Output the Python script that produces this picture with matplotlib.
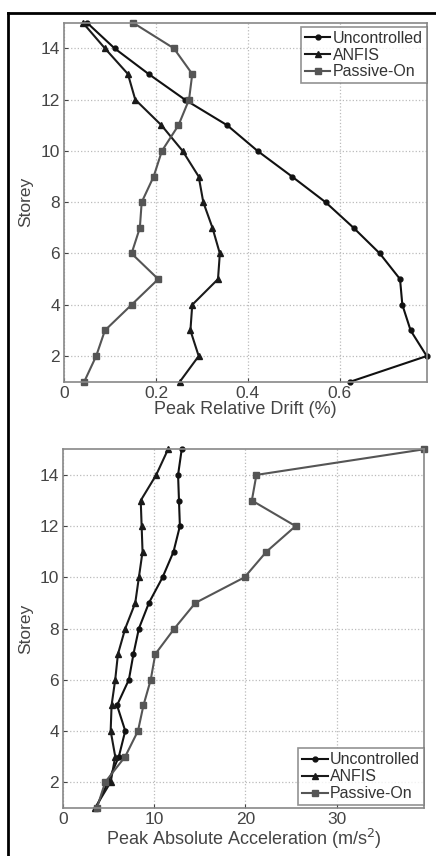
import numpy as np
import matplotlib.pyplot as plt
from matplotlib.lines import Line2D

# Dados
andares = np.arange(15, 0, -1)

deriva_sem_controle = [0.050, 0.110, 0.184, 0.263, 0.355, 0.421, 0.496, 0.569,
                       0.630, 0.687, 0.731, 0.736, 0.754, 0.789, 0.623]
deriva_anfis = [0.041, 0.089, 0.139, 0.155, 0.212, 0.258, 0.293, 0.303,
                0.323, 0.339, 0.335, 0.279, 0.275, 0.293, 0.252]
deriva_passivo = [0.150, 0.239, 0.279, 0.272, 0.249, 0.213, 0.195, 0.169,
                  0.165, 0.147, 0.205, 0.147, 0.089, 0.070, 0.044]

acel_sem_controle = [13.0, 12.6, 12.7, 12.8, 12.1, 10.9, 9.4, 8.3,
                     7.7, 7.2, 5.9, 6.8, 6.1, 4.9, 3.6]
acel_anfis = [11.5, 10.2, 8.5, 8.6, 8.7, 8.3, 7.9, 6.8,
              6.0, 5.7, 5.3, 5.2, 5.7, 5.2, 3.5]
acel_passivo = [39.6, 21.2, 20.7, 25.5, 22.3, 19.9, 14.5, 12.2,
                10.1, 9.6, 8.8, 8.2, 6.8, 4.6, 3.7]

ticks_deriva = [0, 0.2, 0.4, 0.6]
rotulos_deriva = ['0', '0.2', '0.4', '0.6']
ticks_acel = [0, 10, 20, 30]
rotulos_acel = ['0', '10', '20', '30']

nomes = ['Uncontrolled', 'ANFIS', 'Passive-On']
estilos = [dict(color='#111111', marker='o', ms=3.5),
           dict(color='#1a1a1a', marker='^', ms=4.5),
           dict(color='#555555', marker='s', ms=4.5)]

plt.rcParams['font.family'] = ['Liberation Sans', 'DejaVu Sans']

fig = plt.figure(figsize=(4.36, 8.56), dpi=100)

# moldura preta externa (apenas topo e esquerda visiveis)
fig.add_artist(Line2D([8 / 436, 8 / 436], [0, 1 - 13 / 856], color='black', lw=2,
                      transform=fig.transFigure))
fig.add_artist(Line2D([8 / 436, 1.0], [1 - 13 / 856, 1 - 13 / 856], color='black', lw=2,
                      transform=fig.transFigure))

ax1 = fig.add_axes([64 / 436, 1 - 381.7 / 856, 362.7 / 436, 359 / 856])
ax2 = fig.add_axes([63.3 / 436, 1 - 807.7 / 856, 360.7 / 436, 358.4 / 856])


def desenhar(ax, series, xlim, xticks, xrotulos, xlabel, loc, ancora):
    for valores, nome, est in zip(series, nomes, estilos):
        ax.plot(valores, andares, lw=1.5, label=nome, clip_on=False, **est)
    ax.set_xlim(*xlim)
    ax.set_ylim(1, 15)
    ax.set_xticks(xticks, xrotulos)
    ax.set_yticks(range(2, 15, 2))
    ax.grid(True, linestyle=':', color='#bbbbbb', lw=0.9)
    ax.tick_params(direction='in', labelsize=12.5, colors='#444444', length=3, pad=3)
    for lado in ax.spines.values():
        lado.set_color('#888888')
        lado.set_linewidth(1.2)
    ax.set_xlabel(xlabel, fontsize=13, color='#444444', labelpad=0)
    ax.set_ylabel('Storey', fontsize=12.5, color='#444444', labelpad=5)
    leg = ax.legend(loc=loc, bbox_to_anchor=ancora, fontsize=11.5, frameon=True,
                    fancybox=False, borderaxespad=0, handlelength=1.6,
                    handletextpad=0.15, labelspacing=0.12, borderpad=0.25)
    leg.get_frame().set_edgecolor('#777777')
    leg.get_frame().set_linewidth(1.2)
    leg.set_zorder(5)
    for t in leg.get_texts():
        t.set_color('#333333')


desenhar(ax1, [deriva_sem_controle, deriva_anfis, deriva_passivo],
         (0, 0.789), ticks_deriva, rotulos_deriva, 'Peak Relative Drift (%)',
         'upper right', (1.0, 0.989))
desenhar(ax2, [acel_sem_controle, acel_anfis, acel_passivo],
         (0, 39.6), ticks_acel, rotulos_acel, 'Peak Absolute Acceleration (m/s$^2$)',
         'lower right', (1.0, 0.007))

fig.savefig('out.png', dpi=100)
